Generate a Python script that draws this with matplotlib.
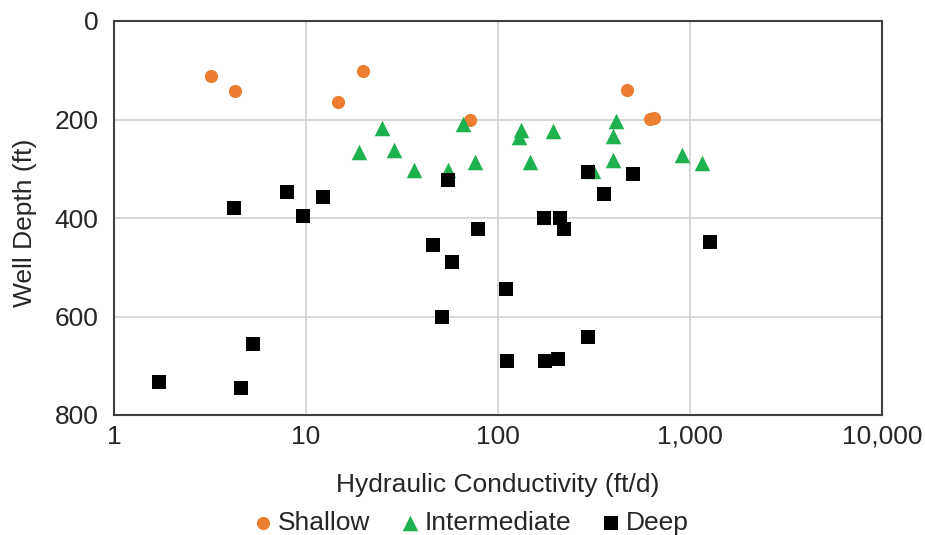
import matplotlib.pyplot as plt
from matplotlib.ticker import FixedLocator, FuncFormatter, NullLocator

plt.rcParams['font.family'] = ['Liberation Sans', 'DejaVu Sans']

# Shallow wells
shallow_k = [3.19, 4.27, 19.9, 14.6, 71.6, 471, 618, 648]
shallow_d = [111, 143, 101, 164, 201, 141, 198, 196]

# Intermediate wells
inter_k = [24.8, 18.9, 28.6, 36.7, 54.7, 75.7, 66.1, 131, 128, 193.5, 147,
           411, 398, 397, 311, 906, 1161]
inter_d = [218, 266, 261, 302, 302, 287, 209, 221, 236, 223, 287,
           203, 234, 282, 305, 272, 289]

# Deep wells
deep_k = [1.71, 4.58, 5.28, 4.21, 7.94, 9.61, 12.2, 55.0, 79.1, 46.1, 57.9,
          110.6, 50.8, 112, 295, 506, 357, 174, 210, 221, 1273, 295, 176, 206]
deep_d = [734, 745, 655, 379, 347, 395, 357, 322, 422, 454, 489,
          544, 602, 690, 307, 310, 351, 401, 401, 422, 448, 641, 690, 686]

xticks = [1, 10, 100, 1000, 10000]
yticks = [0, 200, 400, 600, 800]

fs = 19
txt = '#262626'

fig = plt.figure(figsize=(9.25, 5.35), dpi=100)
ax = fig.add_axes([114 / 925, 1 - 415 / 535, (882 - 114) / 925, (415 - 21) / 535])

ax.scatter(shallow_k, shallow_d, marker='o', s=90, color='#ED7D31',
           linewidths=0, label='Shallow', zorder=3)
ax.scatter(inter_k, inter_d, marker='^', s=125, color='#1FB04F',
           linewidths=0, label='Intermediate', zorder=3)
ax.scatter(deep_k, deep_d, marker='s', s=98, color='black',
           linewidths=0, label='Deep', zorder=3)

ax.set_xscale('log')
ax.set_xlim(1, 10000)
ax.set_ylim(800, 0)
ax.xaxis.set_major_locator(FixedLocator(xticks))
ax.xaxis.set_minor_locator(NullLocator())
ax.xaxis.set_major_formatter(FuncFormatter(lambda v, p: f'{v:,.0f}'))
ax.set_yticks(yticks)

ax.grid(True, color='#D0D0D0', linewidth=1.2)
ax.set_axisbelow(True)
for s in ax.spines.values():
    s.set_color('#404040')
    s.set_linewidth(1.5)
ax.tick_params(length=0, labelsize=fs, colors=txt)
ax.tick_params(axis='x', pad=7)
ax.tick_params(axis='y', pad=11)

ax.set_xlabel('Hydraulic Conductivity (ft/d)', fontsize=fs, color=txt)
ax.xaxis.set_label_coords(0.5, -0.147)
ax.set_ylabel('Well Depth (ft)', fontsize=fs, color=txt)
ax.yaxis.set_label_coords(-0.100, 0.487)

fig.legend(*ax.get_legend_handles_labels(), loc='center',
           bbox_to_anchor=(0.5076, 1 - 523 / 535), ncol=3, frameon=False,
           fontsize=fs, handletextpad=0.07, columnspacing=1.0,
           labelcolor=txt, borderaxespad=0, handlelength=1.0)

fig.savefig('out.png', dpi=100)
